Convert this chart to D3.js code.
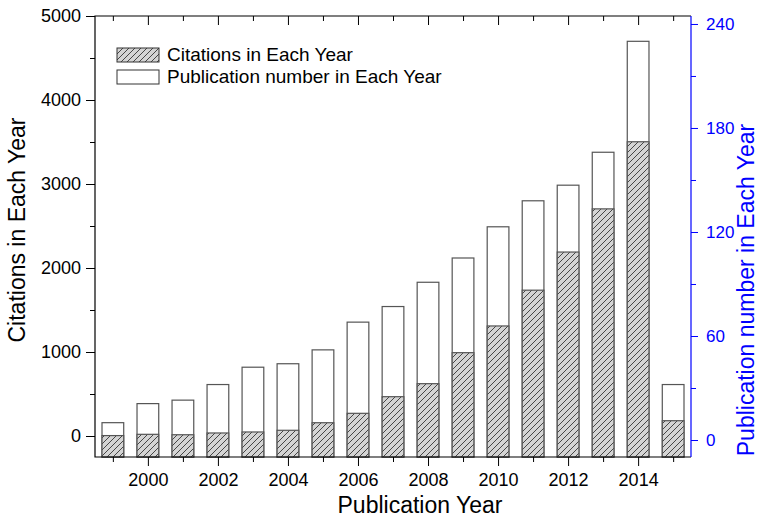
<html>
<head>
<script src="https://d3js.org/d3.v7.min.js"></script>
<style>
  body { margin: 0; background: #fff; }
  text { font-family: Arial, "Liberation Sans", sans-serif; }
</style>
</head>
<body>
<svg id="chart" width="764" height="522"></svg>

<script>
var years = [1999, 2000, 2001, 2002, 2003, 2004, 2005, 2006, 2007, 2008, 2009, 2010, 2011, 2012, 2013, 2014, 2015];
var citations = [5, 20, 15, 36, 48, 68, 158, 270, 468, 623, 992, 1310, 1736, 2190, 2704, 3503, 182];
var publications = [10, 21, 23, 32, 42, 44, 52, 68, 77, 91, 105, 123, 138, 147, 166, 230, 32];
var citationTicks = [0, 1000, 2000, 3000, 4000, 5000];
var citationMinor = [500, 1500, 2500, 3500, 4500];
var pubTicks = [0, 60, 120, 180, 240];
var pubMinor = [30, 90, 150, 210];
var yearTicks = [2000, 2002, 2004, 2006, 2008, 2010, 2012, 2014];
var yearMinor = [1999, 2001, 2003, 2005, 2007, 2009, 2011, 2013, 2015];

var plotL = 95, plotR = 691, plotT = 16, plotB = 457
var blue = "#0000ff"

var svg = d3.select("#chart")

var x = d3.scaleLinear().domain([1998.49, 2015.51]).range([plotL, plotR])
var yC = d3.scaleLinear().domain([-250, 5000]).range([plotB, plotT])
var yP = d3.scaleLinear().domain([-9.8, 244.6]).range([plotB, plotT])
var bw = (x(1) - x(0)) * 0.62

// hatch pattern for citations
var defs = svg.append("defs")
var pat = defs.append("pattern")
    .attr("id", "hatch")
    .attr("patternUnits", "userSpaceOnUse")
    .attr("width", 6).attr("height", 6)
pat.append("rect").attr("width", 6).attr("height", 6).attr("fill", "#d4d4d4")
pat.append("path").attr("d", "M-1,1 L1,-1 M0,6 L6,0 M5,7 L7,5")
    .attr("stroke", "#222").attr("stroke-width", 0.8)

var data = years.map(function(y, i) { return {year: y, cit: citations[i], pub: publications[i]}; })

// publication bars (white, right axis)
svg.selectAll(".pub")
    .data(data)
    .enter().append("rect")
    .attr("class", "pub")
    .attr("x", function(d) { return x(d.year) - bw / 2; })
    .attr("width", bw)
    .attr("y", function(d) { return yP(d.pub); })
    .attr("height", function(d) { return plotB - yP(d.pub); })
    .attr("fill", "#fff")
    .attr("stroke", "#555")
    .attr("stroke-width", 1.2)

// citation bars (hatched, left axis)
svg.selectAll(".cit")
    .data(data)
    .enter().append("rect")
    .attr("class", "cit")
    .attr("x", function(d) { return x(d.year) - bw / 2; })
    .attr("width", bw)
    .attr("y", function(d) { return yC(d.cit); })
    .attr("height", function(d) { return plotB - yC(d.cit); })
    .attr("fill", "url(#hatch)")
    .attr("stroke", "#555")
    .attr("stroke-width", 1.2)

// axes
function clean(g) { g.select(".domain").remove(); }

svg.append("g").attr("transform", "translate(" + plotL + ",0)")
    .call(d3.axisLeft(yC).tickValues(citationTicks).tickFormat(d3.format("d")).tickSize(9).tickPadding(5).tickSizeOuter(0))
    .call(clean)
    .selectAll("text").attr("font-size", 18).attr("fill", "#000")
svg.append("g").attr("transform", "translate(" + plotL + ",0)")
    .call(d3.axisLeft(yC).tickValues(citationMinor).tickSize(5).tickFormat("").tickSizeOuter(0))
    .call(clean)

var gr = svg.append("g").attr("transform", "translate(" + plotR + ",0)")
    .call(d3.axisRight(yP).tickValues(pubTicks).tickSize(7).tickPadding(8).tickSizeOuter(0))
    .call(clean)
gr.selectAll("line").attr("stroke", blue)
gr.selectAll("text").attr("font-size", 17).attr("fill", blue)
svg.append("g").attr("transform", "translate(" + plotR + ",0)")
    .call(d3.axisRight(yP).tickValues(pubMinor).tickSize(5).tickFormat("").tickSizeOuter(0))
    .call(clean)
    .selectAll("line").attr("stroke", blue)

svg.append("g").attr("transform", "translate(0," + plotB + ")")
    .call(d3.axisBottom(x).tickValues(yearTicks).tickFormat(d3.format("d")).tickSize(9).tickPadding(7).tickSizeOuter(0))
    .call(clean)
    .selectAll("text").attr("font-size", 18).attr("fill", "#000")
svg.append("g").attr("transform", "translate(0," + plotB + ")")
    .call(d3.axisBottom(x).tickValues(yearMinor).tickSize(5).tickFormat("").tickSizeOuter(0))
    .call(clean)

// top ticks pointing inward
svg.append("g").attr("transform", "translate(0," + plotT + ")")
    .call(d3.axisBottom(x).tickValues(yearTicks).tickSize(9).tickFormat("").tickSizeOuter(0))
    .call(clean)
svg.append("g").attr("transform", "translate(0," + plotT + ")")
    .call(d3.axisBottom(x).tickValues(yearMinor).tickSize(5).tickFormat("").tickSizeOuter(0))
    .call(clean)

// frame
svg.append("path")
    .attr("d", "M" + plotR + "," + plotT + " L" + plotL + "," + plotT + " L" + plotL + "," + plotB + " L" + plotR + "," + plotB)
    .attr("fill", "none").attr("stroke", "#000").attr("stroke-width", 1.2)
svg.append("line")
    .attr("x1", plotR).attr("x2", plotR).attr("y1", plotT).attr("y2", plotB)
    .attr("stroke", blue).attr("stroke-width", 1.2)

// axis titles
svg.append("text")
    .attr("transform", "translate(25,230) rotate(-90)")
    .attr("text-anchor", "middle")
    .attr("font-size", 23)
    .text("Citations in Each Year")
svg.append("text")
    .attr("transform", "translate(754,290) rotate(-90)")
    .attr("text-anchor", "middle")
    .attr("font-size", 23)
    .attr("fill", blue)
    .text("Publication number in Each Year")
svg.append("text")
    .attr("x", 420).attr("y", 513)
    .attr("text-anchor", "middle")
    .attr("font-size", 23)
    .text("Publication Year")

// legend
var legend = [
  {label: "Citations in Each Year", fill: "url(#hatch)"},
  {label: "Publication number in Each Year", fill: "#fff"}
]
var lg = svg.selectAll(".lg")
    .data(legend)
    .enter().append("g")
    .attr("transform", function(d, i) { return "translate(117," + (48 + i * 22) + ")"; })
lg.append("rect")
    .attr("width", 42).attr("height", 14)
    .attr("fill", function(d) { return d.fill; })
    .attr("stroke", "#333").attr("stroke-width", 1)
lg.append("text")
    .attr("x", 50).attr("y", 13)
    .attr("font-size", 19)
    .text(function(d) { return d.label; })
</script>
</body>
</html>
